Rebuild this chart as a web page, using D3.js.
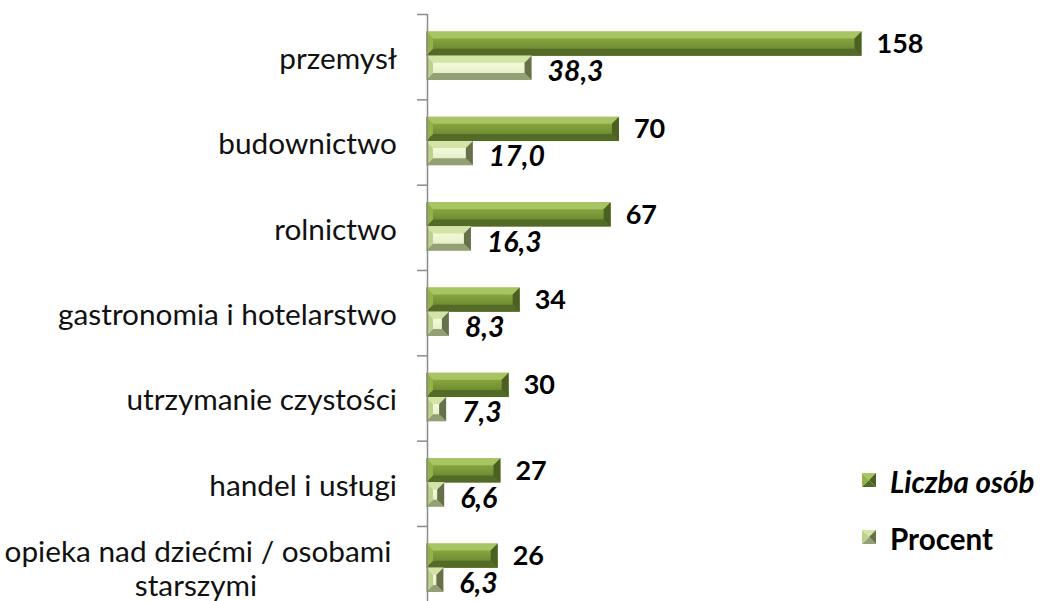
<!DOCTYPE html>
<html>
<head>
<meta charset="utf-8">
<script src="https://cdn.jsdelivr.net/npm/d3@7"></script>
<style>
  body { margin: 0; background: #fff; }
  svg { display: block; font-family: Lato, "Open Sans", sans-serif; }
</style>
</head>
<body>
<div id="chart"></div>
<script>
// dane z wykresu
var categories = ['przemysł', 'budownictwo', 'rolnictwo', 'gastronomia i hotelarstwo',
  'utrzymanie czystości', 'handel i usługi', 'opieka nad dziećmi / osobami starszymi'];
var counts = [158, 70, 67, 34, 30, 27, 26];
var percents = [38.3, 17.0, 16.3, 8.3, 7.3, 6.6, 6.3];
var seriesNames = ['Liczba osób', 'Procent'];

var width = 1042;
var height = 601;

var svg = d3.select('#chart').append('svg')
  .attr('width', width)
  .attr('height', height);

// kolory fazowanych słupków
var palettes = {
  dark: { top: '#a9c563', left: '#93b24a', right: '#4b6021', bottom: '#546b27', body: ['#92b148', '#7e9c3a', '#5f7a2c'] },
  light: { top: '#d4e4a6', left: '#bdd08c', right: '#66714b', bottom: '#939f74', body: ['#f8fde8', '#eef6d4', '#dce6bc'] }
};

var defs = svg.append('defs');
Object.keys(palettes).forEach(function(k) {
  var p = palettes[k];
  var grad = defs.append('linearGradient')
    .attr('id', 'grad-' + k)
    .attr('x1', 0).attr('y1', 0).attr('x2', 0).attr('y2', 1);
  grad.append('stop').attr('offset', '0%').attr('stop-color', p.body[0]);
  grad.append('stop').attr('offset', '45%').attr('stop-color', p.body[1]);
  grad.append('stop').attr('offset', '100%').attr('stop-color', p.body[2]);
});

// skale
var x = d3.scaleLinear().domain([0, 160]).range([426, 867]);
var y = d3.scaleBand().domain(categories).range([14, 14 + 7 * 85.33]);
var ySub = d3.scaleBand().domain(['count', 'pct']).range([17.5, 66]);

function bevelBar(g, x0, y0, x1, y1, key, b) {
  var p = palettes[key];
  b = Math.min(b, (x1 - x0) / 2, (y1 - y0) / 2);
  g.append('rect')
    .attr('x', x0).attr('y', y0)
    .attr('width', x1 - x0).attr('height', y1 - y0)
    .attr('fill', 'url(#grad-' + key + ')');
  var facets = [
    [[x0, y0], [x1, y0], [x1 - b, y0 + b], [x0 + b, y0 + b], p.top],
    [[x0, y1], [x1, y1], [x1 - b, y1 - b], [x0 + b, y1 - b], p.bottom],
    [[x0, y0], [x0 + b, y0 + b], [x0 + b, y1 - b], [x0, y1], p.left],
    [[x1, y0], [x1 - b, y0 + b], [x1 - b, y1 - b], [x1, y1], p.right]
  ];
  facets.forEach(function(f) {
    g.append('polygon')
      .attr('points', f.slice(0, 4).map(function(pt) { return pt.join(','); }).join(' '))
      .attr('fill', f[4]);
  });
}

function fmt(v) {
  return d3.format('.1f')(v).replace('.', ',');
}

// dopasowanie rozmiaru czcionki do szerokości z oryginału
function fitSize(text, weight, style, target) {
  var t = svg.append('text')
    .attr('font-size', 20)
    .attr('font-weight', weight)
    .attr('font-style', style)
    .text(text);
  var w = t.node().getComputedTextLength();
  t.remove();
  return 20 * target / w;
}

var catSize = fitSize('gastronomia i hotelarstwo', 'normal', 'normal', 339);
var countSize = fitSize('158', 'bold', 'normal', 47);
var pctSize = fitSize('38,3', 'bold', 'italic', 56);
var legSize = fitSize('Procent', 'bold', 'normal', 103);

// słupki
var bars = svg.append('g').attr('class', 'bars');
categories.forEach(function(c, i) {
  var top = y(c);
  bevelBar(bars, x(0), top + ySub('count'), x(counts[i]), top + ySub('count') + ySub.bandwidth(), 'dark', 7);
  bevelBar(bars, x(0), top + ySub('pct'), x(percents[i]), top + ySub('pct') + ySub.bandwidth(), 'light', 7);
});

// oś pionowa
var axis = svg.append('g').attr('class', 'axis');
axis.append('line')
  .attr('x1', 427.5).attr('x2', 427.5)
  .attr('y1', 14).attr('y2', height)
  .attr('stroke', '#8c8c8c').attr('stroke-width', 1.5);
categories.forEach(function(c) {
  axis.append('line')
    .attr('x1', 417).attr('x2', 427.5)
    .attr('y1', y(c) + 0.5).attr('y2', y(c) + 0.5)
    .attr('stroke', '#8c8c8c').attr('stroke-width', 1.5);
});

// etykiety kategorii
var labels = svg.append('g').attr('class', 'labels')
  .attr('font-size', catSize)
  .attr('fill', '#111');
categories.forEach(function(c, i) {
  var cy = y(c) + y.bandwidth() / 2 + 1;
  if (i === categories.length - 1) {
    // etykieta zawinięta w dwie linie, wyśrodkowana
    var t = labels.append('text')
      .attr('text-anchor', 'middle')
      .attr('dominant-baseline', 'central');
    t.append('tspan').attr('x', 198).attr('y', cy - 20).text('opieka nad dziećmi / osobami');
    t.append('tspan').attr('x', 196).attr('y', cy + 14).text('starszymi');
  } else {
    labels.append('text')
      .attr('x', 397).attr('y', cy)
      .attr('text-anchor', 'end')
      .attr('dominant-baseline', 'central')
      .text(c);
  }
});

// wartości
var values = svg.append('g').attr('class', 'values').attr('fill', '#000');
categories.forEach(function(c, i) {
  var top = y(c);
  values.append('text')
    .attr('x', x(counts[i]) + 15)
    .attr('y', top + ySub('count') + ySub.bandwidth() / 2 - 1)
    .attr('dominant-baseline', 'central')
    .attr('font-weight', 'bold')
    .attr('font-size', countSize)
    .text(counts[i]);
  values.append('text')
    .attr('x', x(percents[i]) + 16)
    .attr('y', top + ySub('pct') + ySub.bandwidth() / 2 + 2)
    .attr('dominant-baseline', 'central')
    .attr('font-weight', 'bold')
    .attr('font-style', 'italic')
    .attr('font-size', pctSize)
    .text(fmt(percents[i]));
});

// legenda
var legend = svg.append('g').attr('class', 'legend');
['dark', 'light'].forEach(function(key, i) {
  var p = palettes[key];
  var ly = 480 + i * 57;
  var x0 = 862, x1 = 876, y0 = ly - 7, y1 = ly + 7;
  var cx = (x0 + x1) / 2, cy = ly;
  [[[x0, y0], [x1, y0], [cx, cy], p.top],
   [[x0, y1], [x1, y1], [cx, cy], p.bottom],
   [[x0, y0], [x0, y1], [cx, cy], p.left],
   [[x1, y0], [x1, y1], [cx, cy], p.right]].forEach(function(f) {
    legend.append('polygon')
      .attr('points', f.slice(0, 3).map(function(pt) { return pt.join(','); }).join(' '))
      .attr('fill', f[3]);
  });
  legend.append('text')
    .attr('x', 890).attr('y', ly + 1)
    .attr('dominant-baseline', 'central')
    .attr('font-size', legSize)
    .attr('font-weight', 'bold')
    .attr('font-style', i === 0 ? 'italic' : 'normal')
    .text(seriesNames[i]);
});
</script>
</body>
</html>
